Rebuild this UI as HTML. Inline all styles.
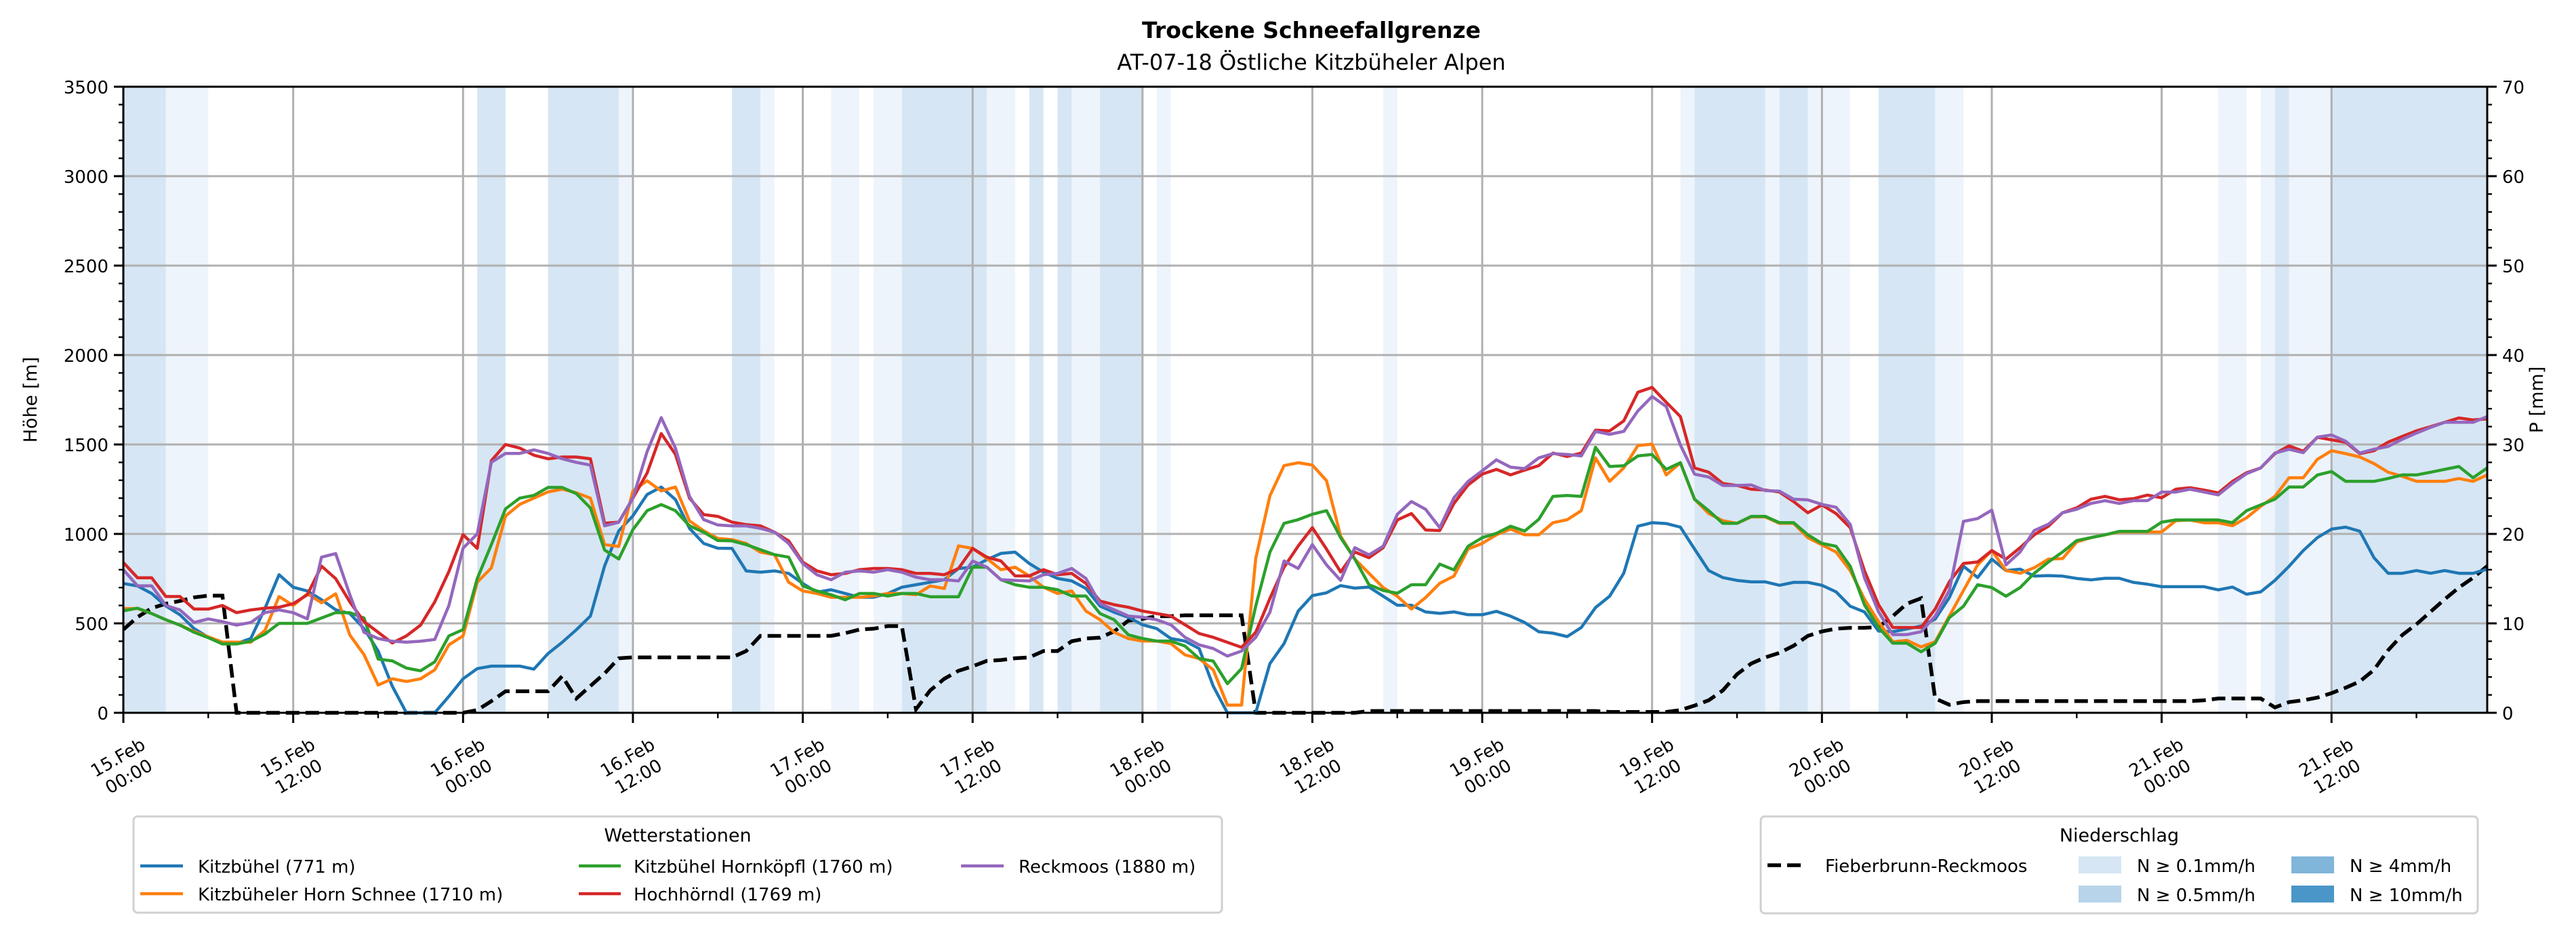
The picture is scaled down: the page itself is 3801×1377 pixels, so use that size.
<!DOCTYPE html>
<html><head><meta charset="utf-8"><title>Trockene Schneefallgrenze</title>
<style>
html,body{margin:0;padding:0;background:#fff;}
svg{display:block;font-family:"DejaVu Sans","Liberation Sans",sans-serif;}
</style></head>
<body>
<svg id="chart" xmlns="http://www.w3.org/2000/svg" width="3801" height="1377" viewBox="0 0 3801 1377">
<rect x="0" y="0" width="3801" height="1377" fill="#fff"/>
<text x="1935" y="56" text-anchor="middle" font-size="33" font-weight="bold">Trockene Schneefallgrenze</text>
<text x="1935" y="103" text-anchor="middle" font-size="32">AT-07-18 Östliche Kitzbüheler Alpen</text>
<g id="bands"></g>
<g id="grid"></g>
<g id="series"></g>
<g id="axes"></g>
<text x="0" y="0" transform="translate(54,590) rotate(-90)" text-anchor="middle" font-size="27">Höhe [m]</text>
<text x="0" y="0" transform="translate(3752,590) rotate(-90)" text-anchor="middle" font-size="27">P [mm]</text>

<g>
<rect x="197" y="1205" width="1606" height="142" rx="6" fill="#fff" stroke="#d0d0d0" stroke-width="3"/>
<text x="1000" y="1242" text-anchor="middle" font-size="27">Wetterstationen</text>
<g><line x1="207" y1="1278" x2="270" y2="1278" stroke="#1f77b4" stroke-width="4.5"/><text x="292" y="1288" font-size="26">Kitzbühel (771 m)</text></g>
<g><line x1="207" y1="1319" x2="270" y2="1319" stroke="#ff7f0e" stroke-width="4.5"/><text x="292" y="1329" font-size="26">Kitzbüheler Horn Schnee (1710 m)</text></g>
<g><line x1="854" y1="1278" x2="916" y2="1278" stroke="#2ca02c" stroke-width="4.5"/><text x="935" y="1288" font-size="26">Kitzbühel Hornköpfl (1760 m)</text></g>
<g><line x1="854" y1="1319" x2="916" y2="1319" stroke="#d62728" stroke-width="4.5"/><text x="935" y="1329" font-size="26">Hochhörndl (1769 m)</text></g>
<g><line x1="1418" y1="1278" x2="1481" y2="1278" stroke="#9467bd" stroke-width="4.5"/><text x="1503" y="1288" font-size="26">Reckmoos (1880 m)</text></g>
</g>

<g>
<rect x="2598" y="1205" width="1058" height="143" rx="6" fill="#fff" stroke="#d0d0d0" stroke-width="3"/>
<text x="3127" y="1242" text-anchor="middle" font-size="27">Niederschlag</text>
<g><line x1="2608" y1="1277" x2="2666" y2="1277" stroke="#000" stroke-width="5.5" stroke-dasharray="20 9"/><text x="2693" y="1287" font-size="26">Fieberbrunn-Reckmoos</text></g>
<g><rect x="3067" y="1264" width="63" height="25" fill="#d6e6f4"/><text x="3153" y="1287" font-size="26">N ≥ 0.1mm/h</text></g>
<g><rect x="3067" y="1307" width="63" height="25" fill="#b7d4ea"/><text x="3153" y="1330" font-size="26">N ≥ 0.5mm/h</text></g>
<g><rect x="3381" y="1264" width="63" height="25" fill="#7fb6d9"/><text x="3467" y="1287" font-size="26">N ≥ 4mm/h</text></g>
<g><rect x="3381" y="1307" width="63" height="25" fill="#4a96c9"/><text x="3467" y="1330" font-size="26">N ≥ 10mm/h</text></g>
</g>
</svg>
<script>
// ---- data (hourly, 15 Feb 00:00 = hour 0) ----
const xTickLabels = ["15.Feb|00:00","15.Feb|12:00","16.Feb|00:00","16.Feb|12:00","17.Feb|00:00","17.Feb|12:00","18.Feb|00:00","18.Feb|12:00","19.Feb|00:00","19.Feb|12:00","20.Feb|00:00","20.Feb|12:00","21.Feb|00:00","21.Feb|12:00"];
const yTicks = [0,500,1000,1500,2000,2500,3000,3500];
const y2Ticks = [0,10,20,30,40,50,60,70];
const bandStart = [0,3,25,30,35,43,45,50,53,55,61,64,66,67,69,73,89,110,111,116,117,119,124,128,148,151,152,153,156];
const bandEnd   = [3,6,27,35,36,45,46,52,55,61,63,65,67,69,72,74,90,111,116,117,119,122,128,130,150,152,153,156,167];
const bandLevel = [2,1,2,2,1,2,1,1,1,2,1,2,2,1,2,1,1,1,2,1,2,1,2,1,1,1,2,1,2];
const kitzbuehel = [723,709,667,597,548,471,422,387,387,415,583,772,702,681,632,576,555,471,345,149,0,0,0,92,190,247,261,261,261,244,331,394,464,541,821,1017,1101,1220,1262,1192,1031,947,920,919,793,786,793,779,723,674,688,667,646,646,667,702,716,730,744,807,814,856,891,898,835,786,751,737,695,597,562,534,492,471,415,401,359,149,0,0,0,275,387,569,655,671,711,697,703,652,601,601,564,556,564,548,548,567,540,505,453,445,426,477,588,652,780,1043,1063,1058,1038,915,795,756,740,732,732,713,729,729,713,676,596,564,457,453,469,485,524,644,819,756,859,795,803,764,767,764,751,743,752,752,729,719,705,705,705,705,687,703,663,676,740,819,907,979,1027,1038,1015,867,780,780,795,780,795,780,780,803];
const hornSchnee = [583,583,555,520,490,455,425,395,395,395,460,650,600,665,615,665,435,325,155,190,175,190,240,380,430,730,810,1100,1165,1200,1235,1250,1230,1200,940,930,1240,1297,1240,1262,1073,1017,975,968,947,898,884,730,681,667,646,646,646,653,667,667,660,709,695,933,919,863,800,814,765,702,667,681,569,520,450,415,401,401,387,324,303,240,43,43,863,1213,1382,1398,1385,1298,987,859,780,700,652,580,644,724,764,915,947,995,1027,995,995,1063,1079,1130,1425,1294,1369,1494,1502,1330,1398,1194,1114,1074,1059,1095,1095,1059,1059,979,939,899,795,636,509,397,405,368,397,540,684,827,907,795,780,811,859,862,955,979,995,1011,1011,1011,1011,1074,1078,1062,1062,1046,1090,1154,1210,1314,1314,1417,1465,1449,1430,1393,1345,1322,1294,1294,1294,1310,1294,1330];
const hornkoepfl = [570,585,555,520,490,450,420,385,385,400,440,500,500,500,530,560,560,530,300,290,250,235,285,430,465,750,940,1140,1200,1215,1260,1260,1225,1145,910,860,1024,1130,1164,1130,1045,1010,963,961,940,912,884,870,709,681,660,632,667,667,653,667,667,649,649,649,814,814,744,716,702,702,688,653,653,555,520,436,415,401,401,373,303,289,163,247,597,898,1059,1080,1110,1130,979,859,716,684,668,716,716,831,799,931,979,1003,1043,1016,1082,1210,1215,1210,1484,1377,1381,1436,1444,1361,1398,1194,1130,1059,1059,1098,1098,1063,1063,995,947,931,819,604,477,389,389,341,389,532,596,716,700,652,700,780,843,899,963,979,995,1014,1014,1014,1066,1078,1078,1078,1078,1063,1130,1162,1194,1262,1262,1329,1349,1294,1294,1294,1310,1330,1330,1345,1361,1377,1314,1369];
const hochhoerndl = [840,755,755,650,650,580,580,600,560,575,585,590,610,660,820,750,620,510,450,390,430,490,620,790,996,919,1410,1500,1480,1440,1420,1430,1430,1420,1060,1066,1200,1340,1561,1445,1200,1108,1098,1066,1052,1045,1010,961,842,793,772,779,800,807,807,800,779,779,772,807,919,870,849,765,765,800,772,779,723,625,604,590,569,555,541,492,443,422,394,366,450,639,814,933,1035,915,787,899,867,923,1078,1114,1022,1019,1170,1274,1334,1361,1330,1357,1382,1452,1433,1452,1580,1576,1632,1792,1819,1736,1656,1369,1345,1282,1271,1250,1245,1234,1181,1118,1162,1114,1035,795,604,477,477,477,580,732,835,843,907,859,923,995,1043,1118,1146,1194,1210,1191,1197,1217,1202,1250,1258,1245,1229,1293,1342,1369,1449,1492,1462,1540,1526,1513,1449,1465,1513,1545,1576,1600,1624,1648,1637,1643];
const reckmoos = [800,710,710,600,575,505,525,510,490,505,560,575,560,525,870,890,660,450,415,400,395,400,410,600,920,1000,1400,1450,1450,1470,1450,1420,1400,1385,1045,1065,1200,1460,1650,1480,1210,1080,1050,1045,1045,1031,1010,947,835,772,744,786,793,786,800,786,758,744,744,737,849,814,744,740,737,772,779,807,751,611,576,541,534,520,492,422,380,359,317,345,422,562,849,807,940,827,740,923,883,931,1110,1181,1138,1035,1202,1293,1353,1414,1373,1365,1425,1449,1444,1436,1573,1557,1573,1688,1768,1712,1497,1334,1318,1271,1271,1274,1242,1239,1194,1190,1165,1149,1053,756,564,437,437,453,540,684,1070,1086,1133,827,899,1019,1054,1118,1138,1170,1186,1170,1186,1186,1234,1234,1250,1234,1218,1282,1337,1369,1452,1473,1454,1541,1553,1518,1452,1473,1489,1529,1564,1596,1624,1624,1624,1656];
const fieberbrunnMm = [9.3,10.7,11.7,12.2,12.5,12.9,13.1,13.1,0,0,0,0,0,0,0,0,0,0,0,0,0,0,0,0,0,0.3,1.3,2.4,2.4,2.4,2.4,4.1,1.6,3.0,4.4,6.1,6.2,6.2,6.2,6.2,6.2,6.2,6.2,6.2,6.9,8.6,8.6,8.6,8.6,8.6,8.6,8.9,9.3,9.4,9.7,9.7,0.4,2.5,3.8,4.7,5.2,5.8,5.9,6.1,6.2,6.9,6.9,8.0,8.3,8.4,9.1,10.3,10.5,10.8,10.8,10.9,10.9,10.9,10.9,10.9,0,0,0,0,0,0,0,0,0.2,0.2,0.2,0.2,0.2,0.2,0.2,0.2,0.2,0.2,0.2,0.2,0.2,0.2,0.2,0.2,0.2,0.1,0.1,0.1,0.1,0.1,0.3,0.8,1.4,2.5,4.3,5.5,6.2,6.7,7.5,8.6,9.1,9.4,9.5,9.5,9.6,10.8,12.2,12.8,1.6,0.9,1.2,1.3,1.3,1.3,1.3,1.3,1.3,1.3,1.3,1.3,1.3,1.3,1.3,1.3,1.3,1.3,1.3,1.4,1.6,1.6,1.6,1.6,0.6,1.2,1.4,1.7,2.2,2.8,3.5,4.8,7.0,8.7,9.9,11.3,12.7,14.0,15.1,16.4];

const NS = "http://www.w3.org/2000/svg";
const L = 182, R = 3670, T = 128, B = 1052, HMAX = 167, YMAX = 3500, PMAX = 70;
function xs(h){ return L + (R - L) * h / HMAX; }
function ys(v){ return B - (B - T) * v / YMAX; }
function yp(mm){ return B - (B - T) * mm / PMAX; }
function mk(tag, attrs, parent){ const e = document.createElementNS(NS, tag); for (const k in attrs) e.setAttribute(k, attrs[k]); parent.appendChild(e); return e; }

const gBands = document.getElementById('bands');
const bandColors = {1:"#eef4fb", 2:"#d6e6f4"};
for (let i = 0; i < bandStart.length; i++) {
  const r = mk('rect', {x: xs(bandStart[i]), y: T, width: xs(bandEnd[i]) - xs(bandStart[i]), height: B - T, fill: bandColors[bandLevel[i]]}, gBands);
  
  
}

const gGrid = document.getElementById('grid');
yTicks.forEach(v => {
  const l = mk('line', {x1: L, x2: R, y1: ys(v), y2: ys(v), stroke: "#b0b0b0", "stroke-width": 3}, gGrid);
  
  
});
xTickLabels.forEach((s, i) => {
  const l = mk('line', {x1: xs(i*12), x2: xs(i*12), y1: T, y2: B, stroke: "#b0b0b0", "stroke-width": 3}, gGrid);
  
  
});

const gS = document.getElementById('series');
function drawLine(arr, color, name, scale, extra){
  const pts = arr.map((v, i) => xs(i).toFixed(1) + "," + scale(v).toFixed(1)).join(" ");
  const p = mk('polyline', Object.assign({points: pts, fill: "none", stroke: color, "stroke-width": 4.5, "stroke-linejoin": "round"}, extra || {}), gS);
  
  
}
drawLine(fieberbrunnMm, "#000", "fieberbrunn-precip-line", yp, {"stroke-width": 5.5, "stroke-dasharray": "20 9", "stroke-linejoin": "miter"});
drawLine(kitzbuehel, "#1f77b4", "kitzbuehel-line", ys);
drawLine(hornSchnee, "#ff7f0e", "horn-schnee-line", ys);
drawLine(hornkoepfl, "#2ca02c", "hornkoepfl-line", ys);
drawLine(hochhoerndl, "#d62728", "hochhoerndl-line", ys);
drawLine(reckmoos, "#9467bd", "reckmoos-line", ys);

const gA = document.getElementById('axes');
const frame = mk('rect', {x: L, y: T, width: R - L, height: B - T, fill: "none", stroke: "#000", "stroke-width": 3}, gA);


for (let v = 0; v <= YMAX; v += 100) {
  const major = v % 500 === 0;
  mk('line', {x1: L, x2: L - (major ? 14 : 7), y1: ys(v), y2: ys(v), stroke: "#000", "stroke-width": major ? 3 : 2.4}, gA);
}
yTicks.forEach(v => {
  const t = mk('text', {x: L - 22, y: ys(v) + 10, "text-anchor": "end", "font-size": 26}, gA);
  t.textContent = v;
  
  
});
for (let m = 0; m <= PMAX; m += 2) {
  const major = m % 10 === 0;
  mk('line', {x1: R, x2: R + (major ? 14 : 7), y1: yp(m), y2: yp(m), stroke: "#000", "stroke-width": major ? 3 : 2.4}, gA);
}
y2Ticks.forEach(m => {
  const t = mk('text', {x: R + 22, y: yp(m) + 10, "text-anchor": "start", "font-size": 26}, gA);
  t.textContent = m;
  
  
});
for (let h = 0; h <= HMAX; h += 6) {
  const major = h % 12 === 0;
  mk('line', {x1: xs(h), x2: xs(h), y1: B, y2: B + (major ? 15 : 8), stroke: "#000", "stroke-width": major ? 3 : 2.4}, gA);
}
xTickLabels.forEach((s, i) => {
  const parts = s.split("|");
  const g = mk('g', {transform: "translate(" + xs(i*12).toFixed(1) + ",1132) rotate(-30)"}, gA);
  
  
  const t1 = mk('text', {x: 0, y: -7, "text-anchor": "middle", "font-size": 26}, g); t1.textContent = parts[0];
  const t2 = mk('text', {x: 0, y: 25, "text-anchor": "middle", "font-size": 26}, g); t2.textContent = parts[1];
});
</script>
</body></html>
